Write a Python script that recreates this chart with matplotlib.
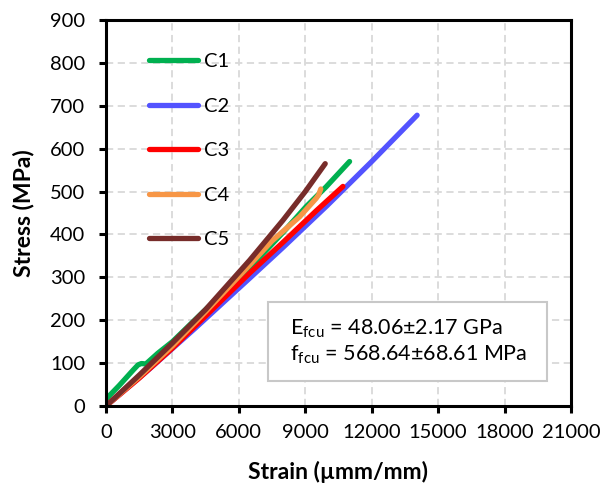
import matplotlib
matplotlib.use("Agg")
import matplotlib.pyplot as plt
from matplotlib.patches import Rectangle

plt.rcParams['font.family'] = ['Lato', 'DejaVu Sans']

labels = ["C1", "C2", "C3", "C4", "C5"]
colors = ["#00B050", "#5353FF", "#FF0000", "#F79646", "#772C2A"]

c1_strain = [0, 600, 1230, 1450, 1600, 1800, 2340, 3000, 4500, 6490, 8000, 9040, 9940, 11000]
c1_stress = [16, 48, 84, 96, 99, 98, 123, 150, 225, 322, 405, 465, 511, 570]

c2_strain = [0, 2000, 4000, 6490, 8000, 10000, 12000, 14050]
c2_stress = [0, 88, 180, 298, 370, 468, 570, 678]

c3_strain = [0, 1500, 3000, 4500, 6490, 8000, 9490, 10700]
c3_stress = [0, 65, 135, 210, 310, 382, 455, 512]

c4_strain = [0, 1500, 3000, 4500, 6490, 7500, 8740, 9490, 9600, 9700]
c4_stress = [0, 68, 140, 220, 329, 385, 441, 484, 492, 506]

c5_strain = [0, 1500, 3000, 4500, 6490, 7990, 9000, 9900]
c5_stress = [0, 72, 147, 225, 340, 433, 500, 565]

strains = [c1_strain, c2_strain, c3_strain, c4_strain, c5_strain]
stresses = [c1_stress, c2_stress, c3_stress, c4_stress, c5_stress]

x_ticks = [0, 3000, 6000, 9000, 12000, 15000, 18000, 21000]
y_ticks = [0, 100, 200, 300, 400, 500, 600, 700, 800, 900]

box_text = "E$_{\\mathregular{fcu}}$ = 48.06±2.17 GPa\nf$_{\\mathregular{fcu}}$ = 568.64±68.61 MPa"

fig = plt.figure(figsize=(6.04, 4.92), dpi=100)
ax = fig.add_axes([106/604, 1-406/492, (571-106)/604, (406-20)/492])

for xs, ys, lab, col in zip(strains, stresses, labels, colors):
    ax.plot(xs, ys, color=col, lw=3.8, label=lab, solid_capstyle='round',
            solid_joinstyle='round')

ax.set_xlim(0, 21000)
ax.set_ylim(0, 900)
ax.set_xticks(x_ticks)
ax.set_yticks(y_ticks)
ax.tick_params(axis='both', labelsize=14.5, direction='out', length=5, width=2.2,
               color='black')
ax.tick_params(axis='y', pad=10)
ax.tick_params(axis='x', pad=8)
for s in ax.spines.values():
    s.set_linewidth(2.2)
    s.set_color('black')
ax.grid(True, color='#d9d9d9', linestyle=(0, (4, 2.5)), linewidth=1.3)
ax.set_axisbelow(True)

ax.set_xlabel("Strain (µmm/mm)", fontsize=16.5, fontweight='bold', labelpad=14)
ax.set_ylabel("Stress (MPa)", fontsize=16.5, fontweight='bold', labelpad=11)

leg = ax.legend(loc='upper left', bbox_to_anchor=(0.075, 0.935), frameon=False,
                fontsize=14.5, handlelength=2.45, handletextpad=0.3,
                labelspacing=1.36, borderaxespad=0)

ax.add_patch(Rectangle((0.348, 0.0648), 0.6, 0.204, transform=ax.transAxes,
                       facecolor='white', edgecolor='#c8c8c8', linewidth=1.5,
                       zorder=5))
ax.text(0.396, 0.166, box_text, transform=ax.transAxes, fontsize=15.5,
        va='center', ha='left', linespacing=1.2, zorder=6)

fig.savefig("out.png", dpi=100)
